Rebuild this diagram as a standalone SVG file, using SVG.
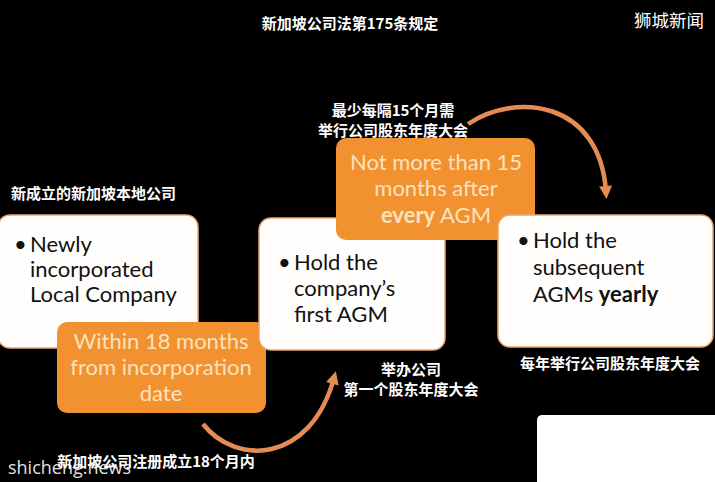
<svg xmlns="http://www.w3.org/2000/svg" width="715" height="482" viewBox="0 0 715 482">
<defs>
<style>
.wbox{fill:#fffefc;stroke:#eaa56b;stroke-width:1.5}
.obox{fill:#f1912f}
.en{font-family:Lato,"Liberation Sans",sans-serif;font-size:22px;fill:#111}
.oen{font-family:Lato,"Liberation Sans",sans-serif;font-size:22px;fill:#fce2bd;text-anchor:middle}
.cn{font-family:"Noto Sans CJK SC",sans-serif;font-size:15px;font-weight:bold;fill:#fff}
.conn{fill:none;stroke:#e58c55;stroke-width:4.5}
</style>
<marker id="ah" markerUnits="userSpaceOnUse" markerWidth="16" markerHeight="16" viewBox="0 0 16 16" refX="8" refY="8" orient="auto">
<path d="M2,1.5 L15,8 L2,14.5 Z" fill="#e58c55"/>
</marker>
</defs>
<rect width="715" height="482" fill="#000"/>

<text x="350" y="29" class="cn" font-size="16.5" text-anchor="middle">新加坡公司法第175条规定</text>
<text x="669" y="27" font-family="'Noto Sans CJK SC',sans-serif" font-size="17.5" fill="#fff" text-anchor="middle">狮城新闻</text>

<g id="connectors">
<path class="conn" d="M203,424 C235,465 310,465 334,378" marker-end="url(#ah)"/>
<path class="conn" d="M468,124 C515,92 600,100 606,192" marker-end="url(#ah)"/>
</g>

<g id="node-new-company">
<rect class="wbox" x="-2" y="215" width="200" height="133" rx="12"/>
<text class="en" x="14" y="252">•</text>
<text class="en" x="30" y="252">Newly</text>
<text class="en" x="30" y="277">incorporated</text>
<text class="en" x="30" y="302">Local Company</text>
</g>

<g id="node-within-18">
<rect class="obox" x="57" y="322" width="209" height="91" rx="10"/>
<text class="oen" x="161" y="349">Within 18 months</text>
<text class="oen" x="161" y="375">from incorporation</text>
<text class="oen" x="161" y="401">date</text>
</g>

<g id="node-first-agm">
<rect class="wbox" x="259" y="218" width="186" height="132" rx="12"/>
<text class="en" x="278" y="270">•</text>
<text class="en" x="294" y="270">Hold the</text>
<text class="en" x="294" y="296">company’s</text>
<text class="en" x="294" y="322">first AGM</text>
</g>

<g id="node-15-months">
<rect class="obox" x="336" y="138" width="199" height="102" rx="10"/>
<text class="oen" x="436" y="170">Not more than 15</text>
<text class="oen" x="436" y="196">months after</text>
<text class="oen" x="436" y="223"><tspan font-weight="bold">every</tspan> AGM</text>
</g>

<g id="node-subsequent">
<rect class="wbox" x="498" y="215" width="215" height="132" rx="12"/>
<text class="en" x="517" y="248">•</text>
<text class="en" x="533" y="248">Hold the</text>
<text class="en" x="533" y="275">subsequent</text>
<text class="en" x="533" y="302">AGMs <tspan font-weight="bold">yearly</tspan></text>
</g>

<g id="labels">
<text class="cn" x="11" y="199">新成立的新加坡本地公司</text>
<text class="cn" x="393" y="116" text-anchor="middle">最少每隔15个月需</text>
<text class="cn" x="393" y="136" text-anchor="middle">举行公司股东年度大会</text>
<text class="cn" x="411" y="375" text-anchor="middle">举办公司</text>
<text class="cn" x="411" y="395" text-anchor="middle">第一个股东年度大会</text>
<text class="cn" x="610" y="369" text-anchor="middle">每年举行公司股东年度大会</text>
<text class="cn" x="156" y="467" text-anchor="middle">新加坡公司注册成立18个月内</text>
</g>

<rect x="537" y="415" width="185" height="75" rx="5" fill="#fff"/>
<text x="8" y="474" font-family="'Open Sans',sans-serif" font-size="18" fill="#fff" fill-opacity="0.9">shicheng.news</text>
</svg>
